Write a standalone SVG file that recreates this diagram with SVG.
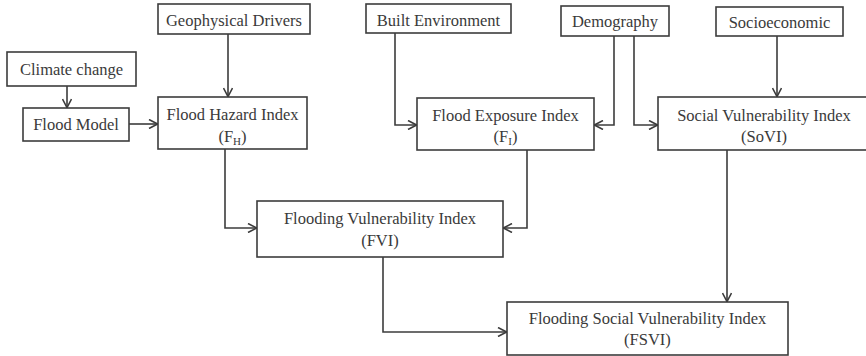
<svg xmlns="http://www.w3.org/2000/svg" width="866" height="356" viewBox="0 0 866 356">
<style>
.box{fill:#ffffff;stroke:#3c3c3c;stroke-width:1.6}
.t{font-family:"Liberation Serif","Times New Roman",serif;font-size:16.5px;fill:#3a3a3a;text-anchor:middle}
.sub{font-size:11px}
.c{fill:none;stroke:#3c3c3c;stroke-width:1.6}
</style>
<defs>
<marker id="arr" viewBox="0 0 10 10" refX="10" refY="5" markerWidth="10" markerHeight="10" markerUnits="userSpaceOnUse" orient="auto">
<path d="M1,0.5 L9.6,5 L1,9.5" fill="none" stroke="#3c3c3c" stroke-width="1.6"/>
</marker>
</defs>
<rect width="866" height="356" fill="#ffffff"/>
<g id="connectors">
<path class="c" marker-end="url(#arr)" d="M67,86 V108"/>
<path class="c" marker-end="url(#arr)" d="M129,124 H158"/>
<path class="c" marker-end="url(#arr)" d="M228,34 V97"/>
<path class="c" marker-end="url(#arr)" d="M395,33 V125 H417"/>
<path class="c" marker-end="url(#arr)" d="M614,36 V125 H594"/>
<path class="c" marker-end="url(#arr)" d="M634,36 V125 H658"/>
<path class="c" marker-end="url(#arr)" d="M777,36 V97"/>
<path class="c" marker-end="url(#arr)" d="M225,149 V228 H257"/>
<path class="c" marker-end="url(#arr)" d="M527,150 V228 H503"/>
<path class="c" marker-end="url(#arr)" d="M383,257 V332 H507"/>
<path class="c" marker-end="url(#arr)" d="M727,150 V302"/>
</g>
<g id="climate-change">
<rect class="box" x="7" y="52" width="129" height="34"/>
<text class="t" x="71.5" y="75">Climate change</text>
</g>
<g id="flood-model">
<rect class="box" x="23" y="108" width="106" height="33"/>
<text class="t" x="76" y="130">Flood Model</text>
</g>
<g id="geophysical-drivers">
<rect class="box" x="158" y="4" width="152" height="30"/>
<text class="t" x="234" y="26">Geophysical Drivers</text>
</g>
<g id="flood-hazard-index">
<rect class="box" x="158" y="97" width="149" height="52"/>
<text class="t" x="232.5" y="120">Flood Hazard Index</text>
<text class="t" x="232.5" y="142">(F<tspan class="sub" dy="3">H</tspan><tspan dy="-3">)</tspan></text>
</g>
<g id="built-environment">
<rect class="box" x="366" y="4" width="145" height="29"/>
<text class="t" x="438.5" y="26">Built Environment</text>
</g>
<g id="flood-exposure-index">
<rect class="box" x="417" y="98" width="177" height="52"/>
<text class="t" x="505.5" y="121">Flood Exposure Index</text>
<text class="t" x="505.5" y="142">(F<tspan class="sub" dy="3">I</tspan><tspan dy="-3">)</tspan></text>
</g>
<g id="demography">
<rect class="box" x="561" y="6" width="108" height="30"/>
<text class="t" x="615" y="27">Demography</text>
</g>
<g id="socioeconomic">
<rect class="box" x="716" y="7" width="127" height="29"/>
<text class="t" x="779.5" y="28">Socioeconomic</text>
</g>
<g id="social-vulnerability-index">
<rect class="box" x="658" y="97" width="212" height="53"/>
<text class="t" x="764" y="121">Social Vulnerability Index</text>
<text class="t" x="764" y="142">(SoVI)</text>
</g>
<g id="flooding-vulnerability-index">
<rect class="box" x="257" y="201" width="246" height="56"/>
<text class="t" x="380" y="224">Flooding Vulnerability Index</text>
<text class="t" x="380" y="246">(FVI)</text>
</g>
<g id="flooding-social-vulnerability-index">
<rect class="box" x="507" y="302" width="281" height="53"/>
<text class="t" x="647.5" y="324">Flooding Social Vulnerability Index</text>
<text class="t" x="647.5" y="345">(FSVI)</text>
</g>
</svg>
